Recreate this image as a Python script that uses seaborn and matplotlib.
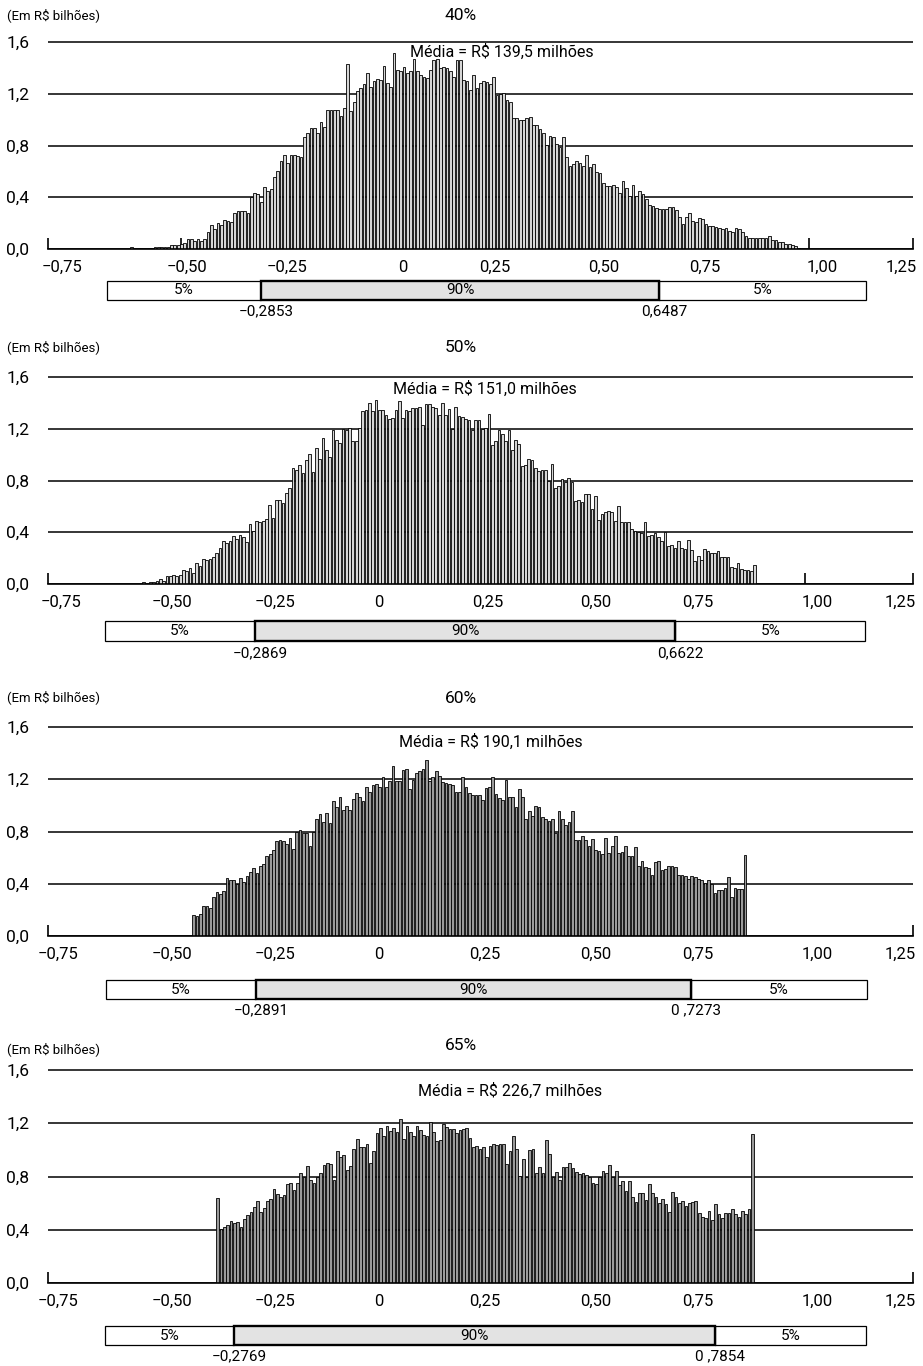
import numpy as np
import pandas as pd
import matplotlib
matplotlib.use("Agg")
import matplotlib.pyplot as plt
import seaborn as sns

sns.set_theme(style="white")
plt.rcParams['font.family'] = ['Roboto', 'DejaVu Sans']
plt.rcParams['font.weight'] = 'normal'
plt.rcParams['axes.unicode_minus'] = True

# ---------------- data ----------------
scenarios = ["40%", "50%", "60%", "65%"]
mean_texts = ["Média = R$ 139,5 milhões", "Média = R$ 151,0 milhões",
              "Média = R$ 190,1 milhões", "Média = R$ 226,7 milhões"]
p05_labels = ["−0,2853", "−0,2869", "−0,2891", "−0,2769"]
p95_labels = ["0,6487", "0,6622", "0 ,7273", "0 ,7854"]
band_labels = ["5%", "90%", "5%"]
unit_label = "(Em R$ bilhões)"
ytick_values = [0.0, 0.4, 0.8, 1.2, 1.6]
ytick_labels = ["0,0", "0,4", "0,8", "1,2", "1,6"]
xtick_labels = ["−0,75", "−0,50", "−0,25", "0", "0,25", "0,50", "0,75", "1,00", "1,25"]

freq_40 = [
    0.013, 0.005, 0.005, 0.005, 0.005, 0.005, 0.005, 0.013, 0.013, 0.013,
    0.013, 0.013, 0.03, 0.03, 0.03, 0.04, 0.05, 0.077, 0.077, 0.06,
    0.077, 0.065, 0.077, 0.128, 0.187, 0.154, 0.2, 0.187, 0.223, 0.218,
    0.21, 0.282, 0.29, 0.29, 0.29, 0.282, 0.4, 0.43, 0.423, 0.36,
    0.477, 0.449, 0.462, 0.559, 0.603, 0.682, 0.723, 0.667, 0.726, 0.726,
    0.718, 0.713, 0.867, 0.9, 0.936, 0.933, 0.897, 0.985, 0.944, 1.072,
    1.077, 1.077, 1.077, 1.03, 1.09, 1.428, 1.064, 1.136, 1.221, 1.244,
    1.272, 1.359, 1.251, 1.3, 1.313, 1.308, 1.415, 1.282, 1.251, 1.513,
    1.385, 1.372, 1.403, 1.359, 1.372, 1.467, 1.372, 1.346, 1.333, 1.318,
    1.38, 1.462, 1.467, 1.397, 1.405, 1.397, 1.372, 1.326, 1.462,
    1.462, 1.308, 1.3, 1.226, 1.344, 1.244, 1.282, 1.3, 1.292, 1.274,
    1.333, 1.192, 1.2, 1.205, 1.154, 1.133, 1.015, 1.01, 1.0, 0.995,
    1.013, 1.021, 0.962, 0.959, 0.928, 0.897, 0.805, 0.872, 0.862, 0.813,
    0.79, 0.867, 0.71, 0.644, 0.659, 0.682, 0.662, 0.641, 0.723, 0.636,
    0.656, 0.595, 0.59, 0.508, 0.49, 0.49, 0.497, 0.477, 0.431, 0.526,
    0.472, 0.41, 0.497, 0.41, 0.449, 0.423, 0.39, 0.338, 0.333, 0.315,
    0.308, 0.313, 0.313, 0.321, 0.328, 0.3, 0.244, 0.19, 0.251, 0.282,
    0.218, 0.21, 0.241, 0.231, 0.19, 0.174, 0.179, 0.167, 0.164, 0.154,
    0.159, 0.138, 0.128, 0.159, 0.154, 0.133, 0.097, 0.087, 0.087, 0.087,
    0.087, 0.087, 0.087, 0.103, 0.067, 0.072, 0.051, 0.056, 0.036, 0.038,
    0.031, 0.021, 0.01,
]

freq_50 = [
    0.018, 0.01, 0.015, 0.018, 0.026, 0.041, 0.021, 0.062, 0.062, 0.067,
    0.062, 0.067, 0.108, 0.103, 0.121, 0.087, 0.159, 0.139, 0.19, 0.185,
    0.195, 0.206, 0.237, 0.275, 0.332, 0.314, 0.334, 0.37, 0.345, 0.38,
    0.365, 0.324, 0.463, 0.406, 0.488, 0.481, 0.486, 0.504, 0.612, 0.514,
    0.648, 0.653, 0.627, 0.704, 0.745, 0.895, 0.884, 0.918, 0.859, 0.956,
    1.003, 0.869, 1.054, 0.969, 1.129, 1.039, 0.982, 1.188, 1.116, 1.09,
    1.198, 1.193, 1.206, 1.103, 1.105, 1.208, 1.337, 1.342, 1.398, 1.337,
    1.424, 1.347, 1.342, 1.306, 1.278, 1.285, 1.347, 1.414, 1.285, 1.342,
    1.337, 1.362, 1.362, 1.368, 1.226, 1.393, 1.388, 1.368, 1.362, 1.303,
    1.398, 1.306, 1.352, 1.198, 1.368, 1.296,
    1.29, 1.275, 1.265, 1.188, 1.27, 1.265, 1.2, 1.203, 1.311, 1.072,
    1.105, 1.188, 1.157, 1.105, 1.193, 1.039, 1.116, 1.085, 0.91, 0.918,
    0.969, 0.956, 0.9, 0.874, 0.879, 0.884, 0.797, 0.931, 0.74, 0.761,
    0.812, 0.787, 0.817, 0.787, 0.643, 0.648, 0.635, 0.699, 0.699, 0.576,
    0.679, 0.494, 0.54, 0.558, 0.566, 0.558, 0.488, 0.601, 0.481, 0.478,
    0.478, 0.422, 0.411, 0.401, 0.391, 0.481, 0.37, 0.38, 0.396, 0.36,
    0.334, 0.403, 0.293, 0.298, 0.278, 0.329, 0.278, 0.267, 0.339, 0.262,
    0.175, 0.216, 0.185, 0.27, 0.252, 0.242, 0.237, 0.257, 0.211, 0.211,
    0.206, 0.129, 0.123, 0.159, 0.113, 0.108, 0.108, 0.103, 0.149,
]

freq_60 = [
    0.163, 0.152, 0.168, 0.229, 0.229, 0.216, 0.302, 0.338, 0.318, 0.348,
    0.444, 0.432, 0.427, 0.401, 0.444, 0.411, 0.457, 0.493, 0.521, 0.483,
    0.533, 0.554, 0.61, 0.63, 0.655, 0.729, 0.737, 0.724, 0.706, 0.749,
    0.665, 0.8, 0.815, 0.79, 0.785, 0.686, 0.8, 0.894, 0.935, 0.869,
    0.94, 0.864, 1.036, 0.985, 1.067, 0.965, 0.995, 0.965, 1.051, 1.092,
    1.061, 1.031, 1.143, 1.105, 1.158, 1.163, 1.138, 1.219, 1.143, 1.189,
    1.3, 1.189, 1.189, 1.27, 1.28, 1.128, 1.194, 1.25, 1.26, 1.275,
    1.346, 1.189, 1.219, 1.265, 1.224, 1.178, 1.173, 1.163, 1.153, 1.105,
    1.105,
    1.214, 1.143, 1.092, 1.079, 1.077, 1.079, 1.041, 1.133, 1.138, 1.214,
    1.087, 1.056, 1.041, 1.194, 1.061, 1.067, 0.991, 1.128, 1.061, 0.894,
    0.955, 0.919, 0.998, 0.985, 0.914, 0.899, 0.884, 0.894, 0.787, 0.958,
    0.894, 0.851, 0.874, 0.96, 0.732, 0.737, 0.767, 0.737, 0.686, 0.742,
    0.66, 0.648, 0.627, 0.752, 0.635, 0.691, 0.762, 0.635, 0.64, 0.686,
    0.615, 0.61, 0.681, 0.533, 0.574, 0.528, 0.523, 0.47, 0.569, 0.574,
    0.508, 0.513, 0.538, 0.533, 0.528, 0.467, 0.467, 0.462, 0.437, 0.462,
    0.452, 0.437, 0.432, 0.406, 0.432, 0.401, 0.33, 0.355, 0.355, 0.371,
    0.452, 0.3, 0.371, 0.361, 0.356, 0.617,
]

freq_65 = [
    0.636, 0.409, 0.422, 0.434, 0.462, 0.452, 0.457, 0.422, 0.482, 0.513,
    0.533, 0.568, 0.613, 0.533, 0.56, 0.613, 0.633, 0.709, 0.668, 0.648,
    0.663, 0.744, 0.754, 0.698, 0.754, 0.824, 0.799, 0.882, 0.774, 0.749,
    0.799, 0.824, 0.884, 0.899, 0.894, 0.774, 0.995, 0.945, 0.96, 0.849,
    0.879, 1.005, 1.085, 1.025, 1.025, 1.045, 0.905, 0.995, 1.126, 1.166,
    1.101, 1.176, 1.143, 1.166, 1.138, 1.231, 1.08, 1.176, 1.136, 1.101,
    1.176, 1.151, 1.111, 1.101, 1.209, 1.136, 1.063, 1.075, 1.196, 1.171,
    1.156, 1.156, 1.126, 1.146,
    1.156, 1.163, 1.088, 1.025, 1.03, 1.01, 1.025, 0.95, 1.03, 1.045,
    1.038, 1.043, 1.045, 0.892, 0.995, 1.101, 1.01, 0.804, 0.935, 0.799,
    1.0, 1.01, 0.824, 0.874, 0.824, 1.075, 0.97, 0.799, 0.834, 0.774,
    0.869, 0.874, 0.905, 0.864, 0.834, 0.819, 0.824, 0.814, 0.794, 0.754,
    0.744, 0.799, 0.839, 0.824, 0.889, 0.799, 0.839, 0.739, 0.769, 0.688,
    0.764, 0.648, 0.61, 0.678, 0.678, 0.623, 0.744, 0.673, 0.648, 0.598,
    0.628, 0.593, 0.533, 0.683, 0.648, 0.598, 0.613, 0.578, 0.603, 0.608,
    0.613, 0.528, 0.497, 0.485, 0.538, 0.472, 0.593, 0.52, 0.492, 0.528,
    0.528, 0.553, 0.52, 0.497, 0.543, 0.52, 0.553, 1.116,
]

# ---------------- layout (pixels of a 923 x 1366 canvas) ----------------
W, H = 923, 1366
AX_L, AX_R = 48, 913
N_SLOTS = 260.5           # histogram slots spanning the axis
first_slot = [25.2, 28.8, 43.9, 51.1]
zero_px = [249, 584, 936, 1283]
top16_px = [42, 377, 727, 1070]
xtick_pos = [
    [4.2, 41.9, 72.0, 106.9, 134.6, 167.5, 197.9, 233.1, 256.9],
    [3.9, 37.3, 68.4, 99.7, 132.5, 165.1, 195.8, 231.6, 256.6],
    [3.0, 37.3, 68.4, 99.7, 131.6, 165.1, 195.8, 231.6, 256.6],
    [3.0, 37.3, 68.4, 99.7, 131.6, 165.1, 195.8, 231.6, 256.6],
]
tickmark_pos = [
    [0, 40.1, 229.2, 260.5],
    [0, 228.0, 260.5],
    [0, 37.3, 231.6, 260.5],
    [0, 37.3, 231.6, 260.5],
]
box_y = [(281, 300), (621, 641), (980, 999), (1326, 1345)]
box_edges = [
    [17.8, 64.2, 184.0, 246.4],
    [17.2, 62.3, 188.9, 246.1],
    [17.5, 62.7, 193.7, 246.7],
    [17.2, 56.0, 200.9, 246.4],
]
title_y = [15, 348, 698, 1045]
unit_y = [15, 347, 697, 1049]
mean_xy = [(502, 52), (485, 389), (491, 742), (510, 1091)]
bar_fill = ['#d6d6d6', '#d6d6d6', '#9a9a9a', '#9a9a9a']

YMAX = 1.64
FS = 12.5


def rect(l, t, r, b):
    return [l / W, 1 - b / H, (r - l) / W, (b - t) / H]


fig = plt.figure(figsize=(W / 100, H / 100), dpi=100)
fig.patch.set_facecolor('white')

series = [freq_40, freq_50, freq_60, freq_65]

for k in range(4):
    freq = np.asarray(series[k])
    z, t16 = zero_px[k], top16_px[k]
    top = z - (z - t16) * YMAX / 1.6
    ax = fig.add_axes(rect(AX_L, top, AX_R, z))
    df = pd.DataFrame({"pos": first_slot[k] + np.arange(len(freq)), "freq": freq})
    sns.barplot(data=df, x="pos", y="freq", native_scale=True, width=0.82,
                color=bar_fill[k], saturation=1, edgecolor='black',
                linewidth=0.6, errorbar=None, ax=ax, zorder=2)
    ax.set_xlim(0, N_SLOTS)
    ax.set_ylim(0, YMAX)
    ax.set_xlabel('')
    ax.set_ylabel('')
    ax.set_facecolor('none')
    for s in ['left', 'right', 'top']:
        ax.spines[s].set_visible(False)
    ax.spines['bottom'].set_color('black')
    ax.spines['bottom'].set_linewidth(1.2)
    ax.set_axisbelow(True)
    ax.grid(False)
    ax.yaxis.grid(True, color='black', linewidth=1.1)
    ax.set_yticks(ytick_values, ytick_labels)
    ax.tick_params(axis='y', length=0, pad=13.5, labelsize=FS, colors='black')
    ax.set_xticks(xtick_pos[k], xtick_labels)
    ax.set_xticks(tickmark_pos[k], minor=True)
    ax.tick_params(axis='x', which='major', length=0, pad=8, labelsize=FS - 0.5,
                   colors='black')
    ax.tick_params(axis='x', which='minor', direction='in', length=8, width=1.2,
                   color='black', bottom=True)

    # texts above the panel
    fig.text(461 / W, 1 - title_y[k] / H, scenarios[k], ha='center', va='center',
             fontsize=FS, color='black')
    fig.text(7 / W, 1 - unit_y[k] / H, unit_label, ha='left', va='center',
             fontsize=9.5, color='black')
    mx, my = mean_xy[k]
    fig.text(mx / W, 1 - my / H, mean_texts[k], ha='center', va='center',
             fontsize=11.5, color='black')

    # 5% / 90% / 5% band
    bt, bb = box_y[k]
    bx = fig.add_axes(rect(AX_L, bt, AX_R, bb))
    bx.set_xlim(0, N_SLOTS)
    bx.set_ylim(0, 1)
    bx.axis('off')
    e = box_edges[k]
    bx.barh([0.5, 0.5], [e[1] - e[0], e[3] - e[2]], left=[e[0], e[2]], height=1,
            color='white', edgecolor='black', linewidth=0.9, clip_on=False)
    bx.barh([0.5], [e[2] - e[1]], left=[e[1]], height=1, color='#e3e3e3',
            edgecolor='black', linewidth=1.7, clip_on=False, zorder=3)
    for j in range(3):
        bx.text((e[j] + e[j + 1]) / 2, 0.5, band_labels[j], ha='center',
                va='center', fontsize=FS - 1.5, color='black', zorder=4)
    bx.text(e[1] + 1.5, -0.62, p05_labels[k], ha='center', va='center',
            fontsize=11, color='black')
    bx.text(e[2] + 1.5, -0.62, p95_labels[k], ha='center', va='center',
            fontsize=11, color='black')

fig.savefig("out.png", dpi=100, facecolor='white')
